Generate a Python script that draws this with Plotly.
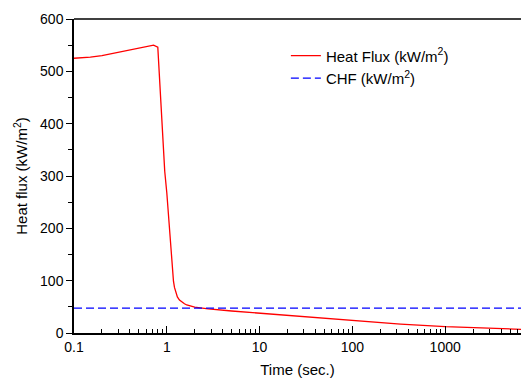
import plotly.graph_objects as go

# Data
time_s = [0.1, 0.15, 0.2, 0.3, 0.4, 0.5, 0.6, 0.72, 0.8, 0.85, 0.9, 0.95, 1.0,
          1.04, 1.08, 1.12, 1.15, 1.18, 1.21, 1.25, 1.3, 1.37, 1.45, 1.55, 1.64,
          1.8, 2.0, 2.29, 2.81, 5, 10, 32, 100, 330, 1000, 3000, 6600]
heat_flux = [525, 527, 530, 536, 540, 544, 547, 550, 546, 464, 388, 309, 268,
             229, 185, 145, 118, 99, 87, 77, 69, 63, 59, 56, 53.5,
             51, 49.5, 48, 46, 42, 38, 30, 23.5, 17, 12, 9, 7]
chf_time = [0.1, 6600]
chf_value = [47.5, 47.5]

x_major = [0.1, 1, 10, 100, 1000]
x_major_labels = ["0.1", "1", "10", "100", "1000"]
x_minor = [m * d for d in [0.1, 1, 10, 100, 1000] for m in range(2, 10)]
y_major = [0, 100, 200, 300, 400, 500, 600]

font_family = "Liberation Sans, Arial, sans-serif"

fig = go.Figure()
fig.add_trace(go.Scatter(x=time_s, y=heat_flux, mode="lines",
                         name="Heat Flux (kW/m<sup>2</sup>)",
                         line=dict(color="#ff0000", width=1.3)))
fig.add_trace(go.Scatter(x=chf_time, y=chf_value, mode="lines",
                         name="CHF (kW/m<sup>2</sup>)",
                         line=dict(color="#0000ff", width=1.3, dash="8px,4px")))

fig.update_layout(
    width=521, height=378,
    margin=dict(l=74, r=0, t=19, b=45),
    paper_bgcolor="white", plot_bgcolor="white",
    font=dict(family=font_family, size=14, color="black"),
    showlegend=True,
    legend=dict(x=0.474, y=0.935, xanchor="left", yanchor="top",
                bgcolor="rgba(0,0,0,0)", font=dict(size=15), tracegroupgap=0),
)
fig.update_xaxes(
    type="log", range=[-1, 3.817],
    tickmode="array", tickvals=x_major, ticktext=x_major_labels,
    ticks="inside", ticklen=7, tickwidth=1, tickcolor="black",
    showline=True, linecolor="black", linewidth=1.5, mirror=False,
    showgrid=False, zeroline=False,
    minor=dict(tickmode="array", tickvals=x_minor, ticks="inside", ticklen=4,
               tickcolor="black", tickwidth=1, showgrid=False),
    title=dict(text="Time (sec.)", font=dict(size=15), standoff=11),
    tickfont=dict(size=14),
)
fig.update_yaxes(
    range=[0, 600], tickmode="array", tickvals=y_major,
    ticks="outside", ticklen=6, tickwidth=1, tickcolor="black",
    showline=True, linecolor="black", linewidth=1.5,
    showgrid=False, zeroline=False,
    minor=dict(dtick=50, ticks="outside", ticklen=4, tickcolor="black", showgrid=False),
    title=dict(text="Heat flux (kW/m<sup>2</sup>)", font=dict(size=15), standoff=9),
    tickfont=dict(size=14),
)
# top frame line
fig.add_shape(type="line", xref="paper", yref="paper", x0=0, x1=1, y0=1, y1=1,
              line=dict(color="black", width=1.5))

fig.write_html("out.html",
               config={"displayModeBar": False},
               post_script="document.body.style.margin='0';document.body.style.overflow='hidden';")
